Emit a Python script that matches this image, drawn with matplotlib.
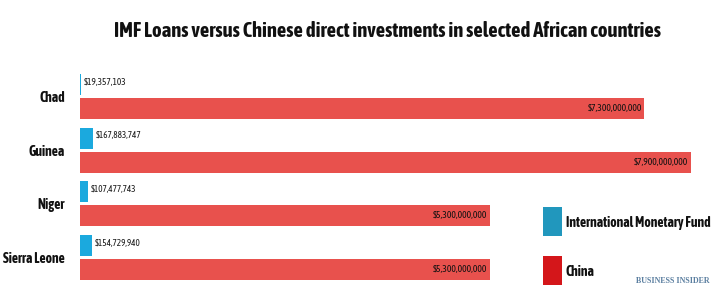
import matplotlib
matplotlib.use("Agg")
import matplotlib.pyplot as plt
from matplotlib.patches import Rectangle
from matplotlib import font_manager as fm

countries = ["Chad", "Guinea", "Niger", "Sierra Leone"]
imf_loans = [19357103, 167883747, 107477743, 154729940]
china_inv = [7300000000, 7900000000, 5300000000, 5300000000]
imf_labels = ["$19,357,103", "$167,883,747", "$107,477,743", "$154,729,940"]
china_labels = ["$7,300,000,000", "$7,900,000,000", "$5,300,000,000", "$5,300,000,000"]
series_names = ["International Monetary Fund", "China"]
title = "IMF Loans versus Chinese direct investments in selected African countries"

W, H = 716, 298
fig = plt.figure(figsize=(W / 100, H / 100), dpi=100)
fig.patch.set_facecolor("white")


def wnum(w):
    if isinstance(w, int):
        return w
    return {"bold": 700, "heavy": 800, "black": 900, "semibold": 600,
            "demibold": 600, "extra bold": 800, "ultrabold": 800}.get(str(w).lower(), 400)


# pick a narrow/condensed sans font, preferring one with a bold face
narrow = {}
for f in fm.fontManager.ttflist:
    if "Narrow" in f.name or "Condensed" in f.name:
        narrow.setdefault(f.name, set()).add(wnum(f.weight))
FAM, STR, BOLD = "DejaVu Sans", "normal", "bold"
bold_names = [n for n, ws in narrow.items() if max(ws) >= 600]
if bold_names:
    FAM = sorted(bold_names)[0]
elif narrow:
    FAM = sorted(narrow)[0]
    BOLD = "normal"
else:
    for f in fm.fontManager.ttflist:
        if f.name == "DejaVu Sans" and f.stretch in ("condensed", "semi-condensed"):
            STR = "condensed"
            break
FONT = [FAM, "DejaVu Sans"]

renderer = fig.canvas.get_renderer()


def fit(t, target_px):
    w = t.get_window_extent(renderer=renderer).width
    t.set_fontsize(t.get_fontsize() * target_px / w)
    return t


# axes: x0 at px 80, y from px 60 to 290
left_px, right_px = 80, 716
top_px, bot_px = 60, 290
ax = fig.add_axes([left_px / W, (H - bot_px) / H, (right_px - left_px) / W, (bot_px - top_px) / H])
ax.set_axis_off()

px_per_unit = 77.3  # px per 1e9
spacing = 53.6
ax.set_xlim(0, (right_px - left_px) / px_per_unit * 1e9)
y_top = -(84.5 - top_px) / spacing
y_bot = (bot_px - 84.5) / spacing
ax.set_ylim(y_bot, y_top)

off = 24 / spacing
bh = 21 / spacing
imf_color = "#1ba9de"
china_color = "#e8514d"
lab_x = -(15 / px_per_unit) * 1e9

for i, c in enumerate(countries):
    ax.barh(i, imf_loans[i], height=bh, color=imf_color, edgecolor="none")
    ax.barh(i + off, china_inv[i], height=bh, color=china_color, edgecolor="none")
    t = ax.text(imf_loans[i] + 3e7, i - 0.04, imf_labels[i], ha="left", va="center",
                fontsize=7.2, family=FONT, fontstretch=STR, color="#1a1a1a")
    fit(t, 43 if i == 0 else 46)
    t = ax.text(china_inv[i] - 3e7, i + off, china_labels[i], ha="right", va="center",
                fontsize=7.2, family=FONT, fontstretch=STR, color="#111111")
    fit(t, 54)
    t = ax.text(lab_x, i + off / 2 + 0.03, c, ha="right", va="center", fontsize=10.5,
                family=FONT, fontstretch=STR, fontweight=BOLD, color="#111111")

# scale country labels so "Sierra Leone" is ~64 px wide
labs = [t for t in ax.texts if t.get_text() in countries]
sl = [t for t in labs if t.get_text() == "Sierra Leone"][0]
scale = 63 / sl.get_window_extent(renderer=renderer).width
for t in labs:
    t.set_fontsize(t.get_fontsize() * scale)

tt = fig.text(387 / W, 1 - 31 / H, title, ha="center", va="center", fontsize=15,
              family=FONT, fontstretch=STR, fontweight=BOLD, color="#111111")
fit(tt, 550)

# legend
leg_colors = ["#2197bd", "#d4161a"]
leg_y = [207, 256]
lt = []
for col, yy, name in zip(leg_colors, leg_y, series_names):
    fig.patches.append(Rectangle((543 / W, 1 - (yy + 29) / H), 19 / W, 29 / H,
                                 transform=fig.transFigure, facecolor=col, edgecolor="none"))
    lt.append(fig.text(566 / W, 1 - (yy + 16) / H, name, ha="left", va="center", fontsize=10.5,
                       family=FONT, fontstretch=STR, fontweight=BOLD, color="#111111"))
s = 146 / lt[0].get_window_extent(renderer=renderer).width
for t in lt:
    t.set_fontsize(t.get_fontsize() * s)

bi = fig.text(710 / W, 1 - 281 / H, "BUSINESS INSIDER", ha="right", va="center", fontsize=6.5,
              family=["Liberation Serif", "DejaVu Serif"],
              color="#5b7fa0", fontweight="bold")
fit(bi, 73)

fig.savefig("out.png", dpi=100)
